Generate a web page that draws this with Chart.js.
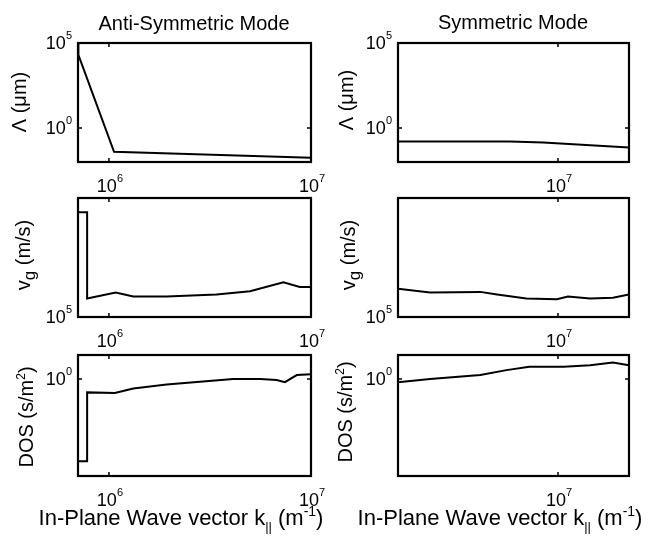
<!DOCTYPE html>
<html>
<head>
<meta charset="utf-8">
<script src="https://cdn.jsdelivr.net/npm/chart.js@4.4.0/dist/chart.umd.min.js"></script>
<style>
  html, body { margin: 0; padding: 0; background: #fff; }
  #wrap { position: relative; width: 653px; height: 536px; }
  #wrap canvas { position: absolute; left: 0; top: 0; }
</style>
</head>
<body>
<div id="wrap">
  <canvas id="c0" width="653" height="536"></canvas>
  <canvas id="c1" width="653" height="536"></canvas>
  <canvas id="c2" width="653" height="536"></canvas>
  <canvas id="c3" width="653" height="536"></canvas>
  <canvas id="c4" width="653" height="536"></canvas>
  <canvas id="c5" width="653" height="536"></canvas>
</div>
<script>
// wave vector k (1/m) and values
const antiLambdaK = [7.03e5, 7.06e5, 1.06e6, 1e7];
const antiLambda = [1e5, 2e4, 0.04, 0.018];

const antiVgK = [7.03e5, 7.8e5, 7.8e5, 1.08e6, 1.32e6, 1.93e6, 3.41e6, 4.99e6, 7.3e6, 8.8e6, 1e7];
const antiVg = [3.39e5, 3.39e5, 1.24e5, 1.33e5, 1.27e5, 1.27e5, 1.30e5, 1.35e5, 1.5e5, 1.42e5, 1.42e5];

const antiDosK = [7.03e5, 7.8e5, 7.8e5, 1.07e6, 1.32e6, 1.93e6, 2.82e6, 4.12e6, 5.6e6, 6.76e6, 7.43e6, 8.5e6, 1e7];
const antiDos = [0.2, 0.2, 0.77, 0.76, 0.83, 0.9, 0.95, 1.0, 1.0, 0.98, 0.94, 1.08, 1.1];

const symLambdaK = [2.5e6, 6.6e6, 8.8e6, 1.85e7];
const symLambda = [0.158, 0.158, 0.14, 0.072];

const symVgK = [2.5e6, 3.3e6, 5.1e6, 5.9e6, 7.6e6, 9.9e6, 1.09e7, 1.32e7, 1.61e7, 1.85e7];
const symVg = [1.39e5, 1.33e5, 1.34e5, 1.30e5, 1.24e5, 1.23e5, 1.27e5, 1.24e5, 1.25e5, 1.30e5];

const symDosK = [2.5e6, 3.3e6, 5.1e6, 6.4e6, 7.8e6, 1.05e7, 1.32e7, 1.61e7, 1.85e7];
const symDos = [0.94, 1.0, 1.08, 1.19, 1.27, 1.27, 1.31, 1.38, 1.31];

// axis ranges and tick values
const antiKRange = [7.03e5, 1e7];
const symKRange = [2.5e6, 1.85e7];
const lambdaRange = [0.01, 1e5];
const vgRange = [1e5, 4e5];
const dosRange = [0.15, 1.6];

const antiKTicks = [1e6, 1e7];
const symKTicks = [1e7];
const lambdaTicks = [1, 1e5];
const vgTicks = [1e5];
const dosTicks = [1];

const FONT = "'Liberation Sans', Arial, sans-serif";
const YW = 40; // fixed y axis width
const XH = 40; // fixed x axis height

// "10" with the exponent raised
function powParts(v) {
  const e = String(Math.round(Math.log10(v)));
  return [{ t: "10" }, { t: e, s: 0.6, dy: -10 }];
}

// text pieces: t = text, s = size factor, dy = baseline shift
const colTitles = [
  [{ t: "Anti-Symmetric Mode" }],
  [{ t: "Symmetric Mode" }],
];
const lambdaLabel = [{ t: "\u039b (\u03bcm)" }];
const vgLabel = [{ t: "v" }, { t: "g", s: 0.85, dy: 5 }, { t: " (m/s)" }];
const dosLabel = [{ t: "DOS (s/m" }, { t: "2", s: 0.62, dy: -8 }, { t: ")" }];
const kLabel = [{ t: "In-Plane Wave vector k" }, { t: "||", s: 0.6, dy: 6 },
  { t: " (m" }, { t: "-1", s: 0.62, dy: -9 }, { t: ")" }];

function drawRich(ctx, parts, x, y, rotated, size, align) {
  ctx.save();
  ctx.translate(x, y);
  if (rotated) ctx.rotate(-Math.PI / 2);
  ctx.fillStyle = "#000";
  ctx.textBaseline = "alphabetic";
  ctx.textAlign = "left";
  let w = 0;
  parts.forEach((p) => {
    ctx.font = Math.round(size * (p.s || 1)) + "px " + FONT;
    w += ctx.measureText(p.t).width;
  });
  let cx = align === "right" ? -w : -w / 2;
  parts.forEach((p) => {
    ctx.font = Math.round(size * (p.s || 1)) + "px " + FONT;
    ctx.fillText(p.t, cx, p.dy || 0);
    cx += ctx.measureText(p.t).width;
  });
  ctx.restore();
}

// box frame, inner tick marks, tick labels and axis texts
const framePlugin = {
  id: "frame",
  afterDatasetsDraw(chart) {
    const { ctx, chartArea: a, scales } = chart;
    const o = chart.options.plugins.frame;
    ctx.save();
    ctx.strokeStyle = "#000";
    ctx.lineWidth = 1.5;
    scales.x.ticks.forEach((t) => {
      const px = scales.x.getPixelForValue(t.value);
      ctx.beginPath();
      ctx.moveTo(px, a.bottom); ctx.lineTo(px, a.bottom - 4);
      ctx.moveTo(px, a.top); ctx.lineTo(px, a.top + 4);
      ctx.stroke();
    });
    scales.y.ticks.forEach((t) => {
      const py = scales.y.getPixelForValue(t.value);
      ctx.beginPath();
      ctx.moveTo(a.left, py); ctx.lineTo(a.left + 4, py);
      ctx.moveTo(a.right, py); ctx.lineTo(a.right - 4, py);
      ctx.stroke();
    });
    ctx.lineWidth = 2.2;
    ctx.strokeRect(a.left, a.top, a.right - a.left, a.bottom - a.top);
    ctx.restore();
    scales.x.ticks.forEach((t) => {
      const px = scales.x.getPixelForValue(t.value);
      drawRich(ctx, powParts(t.value), px + 1, a.bottom + 30, false, 18, "center");
    });
    scales.y.ticks.forEach((t) => {
      const py = scales.y.getPixelForValue(t.value);
      drawRich(ctx, powParts(t.value), a.left - 6, py + 6, false, 18, "right");
    });
    o.texts.forEach((tx) => drawRich(ctx, tx.parts, tx.x, tx.y, tx.rot, tx.size, "center"));
  },
};

function makePanel(id, k, vals, box, kRange, yRange, kTicks, yTicks, texts) {
  const [x0, y0, x1, y1] = box;
  new Chart(document.getElementById(id), {
    type: "line",
    data: {
      datasets: [{
        data: k.map((kk, i) => ({ x: kk, y: vals[i] })),
        borderColor: "#000",
        borderWidth: 2,
        pointRadius: 0,
        tension: 0,
        fill: false,
      }],
    },
    options: {
      responsive: false,
      animation: false,
      events: [],
      layout: {
        padding: { left: x0 - YW, top: y0, right: 653 - x1, bottom: 536 - y1 - XH },
      },
      plugins: {
        legend: { display: false },
        tooltip: { enabled: false },
        frame: { texts: texts },
      },
      scales: {
        x: {
          type: "logarithmic",
          min: kRange[0],
          max: kRange[1],
          grid: { display: false, drawTicks: false },
          border: { display: false },
          afterBuildTicks: (s) => { s.ticks = kTicks.map((v) => ({ value: v })); },
          afterFit: (s) => { s.height = XH; },
          ticks: { display: false, autoSkip: false },
        },
        y: {
          type: "logarithmic",
          min: yRange[0],
          max: yRange[1],
          grid: { display: false, drawTicks: false },
          border: { display: false },
          afterBuildTicks: (s) => { s.ticks = yTicks.map((v) => ({ value: v })); },
          afterFit: (s) => { s.width = YW; },
          ticks: { display: false, autoSkip: false },
        },
      },
    },
    plugins: [framePlugin],
  });
}

const L = [78, 311];
const R = [398, 629];
const rows = [[43, 162], [198, 317], [355, 476]];

makePanel("c0", antiLambdaK, antiLambda, [L[0], rows[0][0], L[1], rows[0][1]],
  antiKRange, lambdaRange, antiKTicks, lambdaTicks, [
    { parts: colTitles[0], x: 194, y: 30, size: 20 },
    { parts: lambdaLabel, x: 26, y: 102, rot: true, size: 20 },
  ]);
makePanel("c1", antiVgK, antiVg, [L[0], rows[1][0], L[1], rows[1][1]],
  antiKRange, vgRange, antiKTicks, vgTicks, [
    { parts: vgLabel, x: 30, y: 255, rot: true, size: 20 },
  ]);
makePanel("c2", antiDosK, antiDos, [L[0], rows[2][0], L[1], rows[2][1]],
  antiKRange, dosRange, antiKTicks, dosTicks, [
    { parts: dosLabel, x: 33, y: 417, rot: true, size: 20 },
    { parts: kLabel, x: 181, y: 525, size: 22 },
  ]);
makePanel("c3", symLambdaK, symLambda, [R[0], rows[0][0], R[1], rows[0][1]],
  symKRange, lambdaRange, symKTicks, lambdaTicks, [
    { parts: colTitles[1], x: 513, y: 29, size: 20 },
    { parts: lambdaLabel, x: 353, y: 100, rot: true, size: 20 },
  ]);
makePanel("c4", symVgK, symVg, [R[0], rows[1][0], R[1], rows[1][1]],
  symKRange, vgRange, symKTicks, vgTicks, [
    { parts: vgLabel, x: 355, y: 255, rot: true, size: 20 },
  ]);
makePanel("c5", symDosK, symDos, [R[0], rows[2][0], R[1], rows[2][1]],
  symKRange, dosRange, symKTicks, dosTicks, [
    { parts: dosLabel, x: 352, y: 412, rot: true, size: 20 },
    { parts: kLabel, x: 500, y: 525, size: 22 },
  ]);
</script>
</body>
</html>
